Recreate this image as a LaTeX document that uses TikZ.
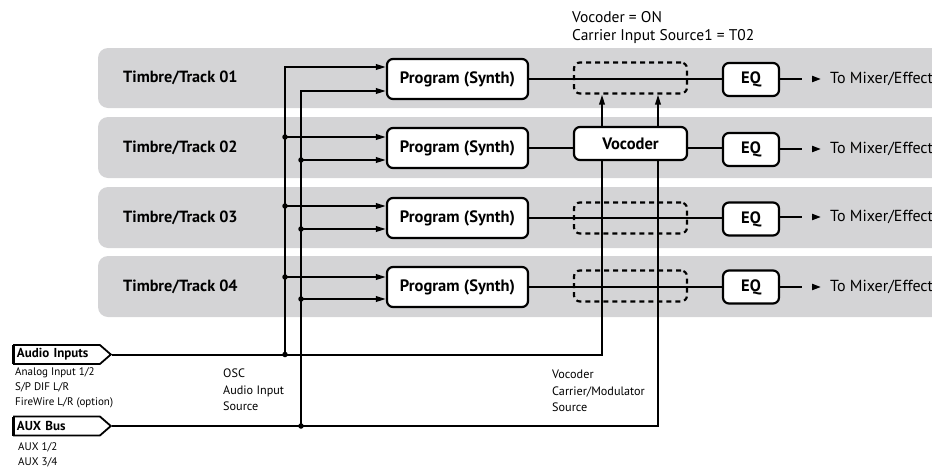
\documentclass[tikz,border=0pt]{standalone}
\usepackage{fontspec}
\setmainfont{PT Sans}
\usetikzlibrary{arrows.meta,shapes.symbols,calc}
\definecolor{bandgray}{RGB}{212,212,214}
\begin{document}
\begin{tikzpicture}[x=1pt,y=-1pt,
  band/.style={fill=bandgray, rounded corners=10pt},
  tracklbl/.style={font=\bfseries\fontsize{16.2}{18}\selectfont, anchor=west, inner sep=0},
  boxbase/.style={draw, line width=2.2pt, rounded corners=6pt, fill=white, inner sep=0, font=\bfseries\fontsize{16.5}{18}\selectfont},
  prog/.style={boxbase, minimum width=141pt, minimum height=40pt},
  voc/.style={boxbase, minimum width=113pt, minimum height=33pt},
  eqbox/.style={boxbase, minimum width=56pt, minimum height=33pt},
  dbox/.style={draw, line width=2.2pt, dash pattern=on 5pt off 4pt, rounded corners=6pt, minimum width=113pt, minimum height=31pt, inner sep=0},
  wire/.style={line width=2pt},
  arr/.style={wire, -{Triangle[length=10pt,width=5.5pt]}},
  outarr/.style={wire, -{Triangle[length=9pt,width=6pt]}},
  outlbl/.style={anchor=west, inner xsep=9pt, inner ysep=0, font=\fontsize{16}{18}\selectfont},
  tag/.style={draw, line width=1.8pt, shape=signal, signal to=east, signal pointer angle=82, minimum height=19pt, text width=80pt, align=left, inner xsep=3pt, inner ysep=0, anchor=west, font=\bfseries\fontsize{13}{14}\selectfont},
  small/.style={anchor=west, align=left, inner sep=0, font=\fontsize{11}{15}\selectfont},
  note/.style={anchor=west, align=left, inner sep=0, font=\fontsize{12.2}{16.5}\selectfont},
  top/.style={anchor=west, inner sep=0, font=\fontsize{15.5}{17}\selectfont},
  dotj/.style={circle, fill, inner sep=0, minimum size=5.5pt}
]
\useasboundingbox (0,0) rectangle (932,469);

% bands
\fill[band] (98,48) rectangle (960,108);
\fill[band] (98,117) rectangle (960,178);
\fill[band] (98,187) rectangle (960,248);
\fill[band] (98,256) rectangle (960,317);

% track labels
\node[tracklbl] (t1) at (123,78) {Timbre/Track 01};
\node[tracklbl] (t2) at (123,147.5) {Timbre/Track 02};
\node[tracklbl] (t3) at (123,217.5) {Timbre/Track 03};
\node[tracklbl] (t4) at (123,286.5) {Timbre/Track 04};

% program boxes
\node[prog] (p1) at (457.5,79) {Program (Synth)};
\node[prog] (p2) at (457.5,148) {Program (Synth)};
\node[prog] (p3) at (457.5,218) {Program (Synth)};
\node[prog] (p4) at (457.5,287) {Program (Synth)};

% vocoder and dashed slots
\node[dbox] (d1) at (630.5,78) {};
\node[voc] (vc) at (630.5,143.5) {Vocoder};
\node[dbox] (d3) at (630.5,218) {};
\node[dbox] (d4) at (630.5,286) {};

% EQ boxes
\node[eqbox] (e1) at (751,79.5) {EQ};
\node[eqbox] (e2) at (751,149.5) {EQ};
\node[eqbox] (e3) at (751,219) {EQ};
\node[eqbox] (e4) at (751,287) {EQ};

% outputs
\foreach \i/\y in {1/79,2/149,3/217,4/287}{
  \coordinate (o\i) at (802,\y);
  \coordinate (s\i) at (811.5,\y);
  \node[outlbl] (m\i) at (821,\y) {To Mixer/Effect};
}
\foreach \i in {1,2,3,4}{
  \draw[wire] (e\i.east |- o\i) -- (o\i);
  \draw[outarr] (s\i) -- (m\i.west);
}

% main signal lines
\draw[wire] (p1.east) -- (e1.west |- p1.east);
\draw[wire] (p2.east) -- (p2.east -| vc.west);
\draw[wire] (vc.east |- p2.east) -- (e2.west |- p2.east);
\draw[wire] (p3.east) -- (e3.west |- p3.east);
\draw[wire] (p4.east) -- (e4.west);

% input tags
\node[tag] (ain) at (13,354.5) {Audio Inputs};
\node[tag] (aux) at (13,426) {AUX Bus};
\draw[line width=2.8pt] ($(ain.west)+(0,-9.5)$) -- ($(ain.west)+(0,9.5)$);
\draw[line width=2.8pt] ($(aux.west)+(0,-9.5)$) -- ($(aux.west)+(0,9.5)$);

\node[small] (ainl) at (15,388) {Analog Input 1/2\\S/P DIF L/R\\FireWire L/R (option)};
\node[small] (auxl) at (18,454.5) {AUX 1/2\\AUX 3/4};
\node[note] (osc) at (223,390) {OSC\\Audio Input\\Source};
\node[note] (vcs) at (552,391) {Vocoder\\Carrier/Modulator\\Source};

\node[top] (von) at (572,17) {Vocoder = ON};
\node[top] (cis) at (572,37) {Carrier Input Source1 = T02};

% junctions
\coordinate (ja) at (285,354.5);
\coordinate (jb) at (301,426);
\coordinate (va) at (602,354.5);
\coordinate (vb) at (658,426);

% bus lines
\draw[wire] (ain.east) -- (va) -- (va |- vc.south);
\draw[wire] (aux.east) -- (vb) -- (vb |- vc.south);
\draw[arr] (va |- vc.north) -- (va |- d1.south);
\draw[arr] (vb |- vc.north) -- (vb |- d1.south);

% program inputs
\foreach \i/\ya/\yb in {1/67/91,2/137/160,3/206/229,4/277/299}{
  \coordinate (ia\i) at (387,\ya);
  \coordinate (ib\i) at (387,\yb);
}
\draw[arr] (ja) |- (ia1 -| p1.west);
\draw[arr] (jb) |- (ib1 -| p1.west);
\foreach \i in {2,3,4}{
  \draw[arr] (ja |- ia\i) -- (ia\i -| p\i.west);
  \draw[arr] (jb |- ib\i) -- (ib\i -| p\i.west);
  \node[dotj] at (ja |- ia\i) {};
  \node[dotj] at (jb |- ib\i) {};
}
\node[dotj] at (ja) {};
\node[dotj] at (jb) {};
\end{tikzpicture}
\end{document}
